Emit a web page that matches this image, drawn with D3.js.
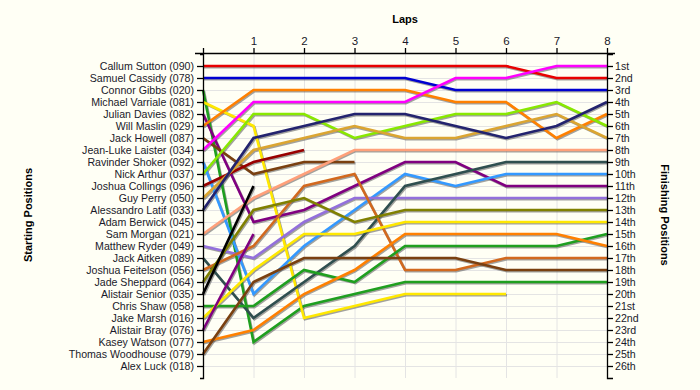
<!DOCTYPE html>
<html>
<head>
<meta charset="utf-8">
<script src="https://cdnjs.cloudflare.com/ajax/libs/d3/7.8.5/d3.min.js"></script>
<style>
  body { margin: 0; background: #fffff5; }
  text { font-family: Arial, "Liberation Sans", sans-serif; }
</style>
</head>
<body>
<div id="chart"></div>
<script>
// starting grid, top to bottom
const starters = [
  "Callum Sutton (090)", "Samuel Cassidy (078)", "Connor Gibbs (020)", "Michael Varriale (081)",
  "Julian Davies (082)", "Will Maslin (029)", "Jack Howell (087)", "Jean-Luke Laister (034)",
  "Ravinder Shoker (092)", "Nick Arthur (037)", "Joshua Collings (096)", "Guy Perry (050)",
  "Alessandro Latif (033)", "Adam Berwick (045)", "Sam Morgan (021)", "Matthew Ryder (049)",
  "Jack Aitken (089)", "Joshua Feitelson (056)", "Jade Sheppard (064)", "Alistair Senior (035)",
  "Chris Shaw (058)", "Jake Marsh (016)", "Alistair Bray (076)", "Kasey Watson (077)",
  "Thomas Woodhouse (079)", "Alex Luck (018)"
];

// position at lap 0..8 for each starter (shorter = retired, empty = no laps)
const lapPositions = [
  [1, 1, 1, 1, 1, 1, 1, 2, 2],
  [2, 2, 2, 2, 2, 3, 3, 3, 3],
  [3, 24, 21, 20, 19, 19, 19, 19, 19],
  [4, 6, 22, 21, 20, 20, 20],
  [5, 14, 13, 11, 9, 9, 11, 11, 11],
  [6, 3, 3, 3, 3, 4, 4, 7, 5],
  [7, 10, 9, 9],
  [8, 4, 4, 4, 4, 2, 2, 1, 1],
  [9, 20, 16, 13, 10, 11, 10, 10, 10],
  [10, 5, 5, 7, 6, 5, 5, 4, 6],
  [11, 9, 8],
  [12, 8, 7, 6, 7, 7, 6, 5, 7],
  [13, 7, 6, 5, 5, 6, 7, 6, 4],
  [],
  [15, 12, 10, 8, 8, 8, 8, 8, 8],
  [16, 17, 14, 12, 12, 12, 12, 12, 12],
  [17, 22, 19, 16, 11, 10, 9, 9, 9],
  [18, 16, 11, 10, 18, 18, 17, 17, 17],
  [19, 13, 12, 14, 13, 13, 13, 13, 13],
  [20, 11],
  [21, 21, 18, 19, 16, 16, 16, 16, 15],
  [22, 18, 15, 15, 14, 14, 14, 14, 14],
  [23, 15],
  [24, 23, 20, 18, 15, 15, 15, 15, 16],
  [25, 19, 17, 17, 17, 17, 18, 18, 18],
  []
];

const lineColours = [
  "#e80000", "#0000d0", "#1f9f1f", "#ffe800", "#800080", "#ff8000", "#7a4010", "#ff00ff",
  "#3399ff", "#88e800", "#990000", "#dba531", "#23236e", "#888888", "#ffa07a", "#9370db",
  "#2f4f4f", "#d2691e", "#808000", "#000000", "#1f9f1f", "#ffe800", "#800080", "#ff8000",
  "#7a4010", "#888888"
];

const lapTicks = [1, 2, 3, 4, 5, 6, 7, 8];
const finishLabels = ["1st", "2nd", "3rd", "4th", "5th", "6th", "7th", "8th", "9th", "10th",
  "11th", "12th", "13th", "14th", "15th", "16th", "17th", "18th", "19th", "20th", "21st",
  "22nd", "23rd", "24th", "25th", "26th"];

const width = 700, height = 390;
const rows = d3.range(1, 27);

const svg = d3.select("#chart").append("svg")
  .attr("width", width)
  .attr("height", height);

const x = d3.scaleLinear().domain([0, 8]).range([203, 607]);
const y = d3.scaleLinear().domain([0, 27]).range([54, 378]);

// grid
svg.append("g").selectAll("line.h")
  .data(rows)
  .join("line")
  .attr("x1", x(0)).attr("x2", x(8))
  .attr("y1", d => y(d) + 0.5).attr("y2", d => y(d) + 0.5)
  .attr("stroke", "#e4e4e4");
svg.append("g").selectAll("line.v")
  .data(lapTicks.slice(0, -1))
  .join("line")
  .attr("x1", d => x(d) + 0.5).attr("x2", d => x(d) + 0.5)
  .attr("y1", y(0)).attr("y2", y(27))
  .attr("stroke", "#e4e4e4");

// lines
const line = d3.line()
  .x((d, i) => x(i))
  .y(d => y(d));

const drawn = lapPositions
  .map((p, i) => ({ p: p, c: lineColours[i] }))
  .filter(d => d.p.length > 1);

// soft shadow under each line
svg.append("g")
  .attr("transform", "translate(1,1.2)")
  .selectAll("path")
  .data(drawn)
  .join("path")
  .attr("d", d => line(d.p))
  .attr("fill", "none")
  .attr("stroke", "#555")
  .attr("stroke-opacity", 0.55)
  .attr("stroke-width", 2.6);

svg.append("g")
  .selectAll("path")
  .data(drawn)
  .join("path")
  .attr("d", d => line(d.p))
  .attr("fill", "none")
  .attr("stroke", d => d.c)
  .attr("stroke-width", 2.6)
  .attr("stroke-linejoin", "miter");

// axes
svg.append("g")
  .attr("transform", `translate(${x(0)},0)`)
  .call(d3.axisLeft(y).tickValues(rows).tickFormat(d => starters[d - 1])
    .tickSize(6).tickSizeOuter(3).tickPadding(3));

svg.append("g")
  .attr("transform", `translate(${x(8)},0)`)
  .call(d3.axisRight(y).tickValues(rows).tickFormat(d => finishLabels[d - 1])
    .tickSize(6).tickSizeOuter(6).tickPadding(2));

const topAxis = svg.append("g")
  .attr("transform", `translate(0,${y(0) - 1})`)
  .call(d3.axisTop(x).tickValues([0].concat(lapTicks)).tickFormat(d => d === 0 ? "" : d)
    .tickSize(5).tickSizeOuter(0).tickPadding(3));
topAxis.select(".domain").remove();
topAxis.append("line")
  .attr("x1", 195).attr("x2", 615)
  .attr("y1", 0.5).attr("y2", 0.5)
  .attr("stroke", "#000").attr("stroke-width", 1.5);

svg.selectAll(".tick text")
  .attr("font-size", 10.6)
  .attr("fill", "#1a1a2a")
  .style("font-family", "Arial, 'Liberation Sans', sans-serif");
topAxis.selectAll(".tick text").attr("font-size", 11.5);
svg.selectAll(".domain, .tick line").attr("stroke", "#000").attr("stroke-width", 1.3);

// titles
svg.append("text")
  .attr("x", 405).attr("y", 23)
  .attr("text-anchor", "middle")
  .attr("font-size", 11).attr("font-weight", "bold")
  .text("Laps");

svg.append("text")
  .attr("transform", "translate(32,215) rotate(-90)")
  .attr("text-anchor", "middle")
  .attr("font-size", 11).attr("font-weight", "bold")
  .text("Starting Positions");

svg.append("text")
  .attr("transform", "translate(661,215) rotate(90)")
  .attr("text-anchor", "middle")
  .attr("font-size", 11).attr("font-weight", "bold")
  .text("Finishing Positions");
</script>
</body>
</html>
